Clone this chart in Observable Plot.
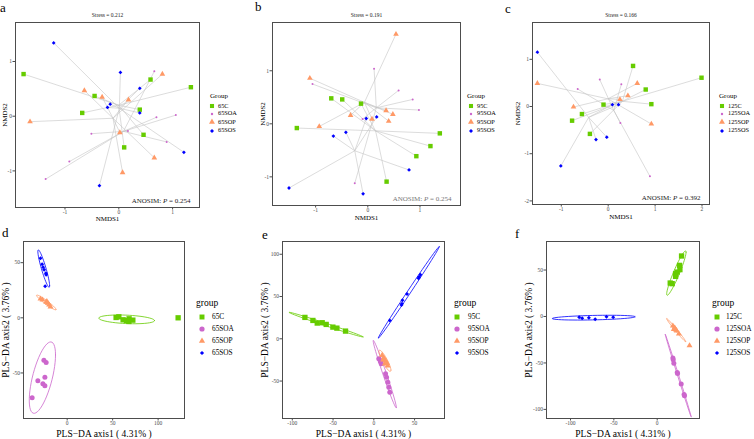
<!DOCTYPE html>
<html><head><meta charset="utf-8">
<script src="https://cdn.jsdelivr.net/npm/d3@7"></script>
<script src="https://cdn.jsdelivr.net/npm/@observablehq/plot@0.6"></script>
<style>
body{margin:0;background:#fff}
#root{position:relative;width:754px;height:439px;overflow:hidden;font-family:"Liberation Serif","Times New Roman",serif;color:#000;background:#fff}
.abs{position:absolute;white-space:nowrap;line-height:1}
</style></head><body><div id="root"></div>
<script>
// ---------- shared categories / styles ----------
const groupSuffix = ["C", "SOA", "SOP", "SOS"];
const groupColors = ["#66CC00", "#CC66CC", "#FF9966", "#0000FF"];
const groupSymbols = ["square", "circle", "triangle", "diamond2"];

// ---------- NMDS (top row) ----------
const a65C   = [[-1.77,0.77],[-0.68,0.06],[-0.45,0.37],[0.59,0.67],[1.34,0.53],[0.39,0.12],[0.46,-0.34],[0.10,-0.57]];
const a65SOA = [[0.66,0.82],[0.70,-0.02],[1.06,0.02],[0.17,-0.27],[-0.51,-0.32],[0.89,-0.47],[-0.92,-0.83],[-1.36,-1.15]];
const a65SOP = [[0.81,0.77],[-0.64,0.47],[-0.31,0.35],[0.18,0.30],[-1.65,-0.10],[0.02,-0.30],[0.66,-0.76],[0.07,-1.03]];
const a65SOS = [[-1.21,1.34],[0.03,0.80],[0.39,0.51],[-0.16,0.22],[-0.21,0.16],[0.39,0.06],[1.21,-0.66],[-0.36,-1.27]];

const b95C   = [[-0.70,0.48],[-0.49,0.46],[-0.13,0.38],[-1.36,-0.08],[1.38,-0.18],[1.20,-0.42],[0.93,-0.61],[0.36,-1.09]];
const b95SOA = [[0.12,1.04],[0.59,0.63],[0.86,0.46],[0.98,0.26],[-1.06,0.75],[-0.10,0.09],[-0.25,-1.12]];
const b95SOP = [[0.54,1.69],[-1.11,0.86],[0.35,0.25],[0.48,0.18],[-0.33,0.16],[-0.93,-0.05],[0.08,0.09],[0.40,0.05]];
const b95SOS = [[-0.03,0.10],[0.17,0.13],[-0.66,-0.23],[-0.42,-0.16],[0.79,-0.87],[-1.51,-1.21],[-0.09,-1.32]];

const c125C   = [[0.53,0.86],[1.99,0.61],[0.80,0.36],[0.92,0.05],[-0.10,0.04],[-0.56,-0.16],[-0.77,-0.30],[-0.39,-0.58]];
const c125SOA = [[-0.18,0.57],[-0.65,0.37],[0.28,0.47],[0.26,-0.35],[0.89,-1.48]];
const c125SOP = [[-1.51,0.49],[0.62,0.49],[0.25,0.15],[0.42,0.23],[-0.74,-0.01],[0.92,-0.37]];
const c125SOS = [[-1.51,1.15],[0.09,0.04],[0.22,0.04],[-0.26,-0.70],[-0.03,-0.65],[-1.01,-1.26]];

const stressValues = ["0.212", "0.191", "0.166"];
const anosimP = ["0.254", "0.254", "0.392"];

// ---------- PLS-DA (bottom row) ----------
const d65C   = [[53.8,0.3],[56.8,0.9],[61.5,-1.8],[65.2,-2.4],[67.8,-3.3],[72.2,-2.1],[68.1,-0.9],[122,0]];
const d65SOA = [[-25.6,-38.4],[-23.1,-40.5],[-24.5,-53.8],[-32.2,-57.1],[-26.7,-59.8],[-24.5,-61.6],[-38.5,-72.5]];
const d65SOP = [[-29.3,17.2],[-27.1,16.3],[-23.1,14.2],[-21.2,13.3],[-19.8,11.8],[-18.3,10.0],[-22.3,14.8]];
const d65SOS = [[-29.3,54.1],[-27.5,48.6],[-26.4,45.9],[-25.3,43.5],[-23.4,40.5],[-23.1,39.0],[-24.2,28.7]];

const e95C   = [[-84.5,25.3],[-74.7,21.7],[-69.4,18.6],[-63.3,19.0],[-58.4,17.0],[-50.2,13.8],[-45.3,12.6],[-34.7,9.1]];
const e95SOA = [[6.1,-23.7],[8.0,-27.0],[9.1,-29.6],[14.4,-41.4],[15.6,-45.4],[17.2,-51.4],[18.4,-57.3],[19.6,-63.2]];
const e95SOP = [[10.2,-19.4],[12.2,-22.5],[14.3,-25.7],[16.3,-28.9],[17.1,-32.0],[11.4,-24.9],[13.5,-29.6]];
const e95SOS = [[19.6,21.7],[33.9,39.9],[34.5,41.5],[35.1,45.5],[40.8,53.0],[54.7,71.5],[55.5,73.0],[57.1,75.9]];

const f125C   = [[28.1,65.1],[25.8,55.0],[26.2,50.4],[23.1,47.8],[21.2,46.0],[21.2,43.2],[17.3,35.3],[15.0,36.0]];
const f125SOA = [[18.1,-44.6],[18.5,-46.5],[19.2,-50.4],[23.1,-60.4],[23.5,-61.5],[27.7,-72.7],[31.0,-84.0],[31.5,-85.3]];
const f125SOP = [[18.1,-10.1],[20.0,-12.2],[20.5,-12.8],[21.9,-14.7],[22.5,-15.5],[25.0,-18.7],[37.3,-31.3],[19.2,-13.7]];
const f125SOS = [[-90.0,-0.7],[-86.5,-1.8],[-78.8,-1.4],[-71.5,-2.9],[-58.5,-0.4],[-50.8,-0.7]];

const plsX = "PLS\u2212DA axis1 ( 4.31% )";
const plsY = "PLS\u2212DA axis2 ( 3.76% )";

// ---------- helpers ----------
const FONT = '"Liberation Serif","Times New Roman",serif';
const root = document.getElementById("root");
function place(el, left, top) {
  el.style.position = "absolute"; el.style.left = left + "px"; el.style.top = top + "px";
  root.appendChild(el);
}
function textDiv(str, left, centerY, size, extra = {}) {
  const d = document.createElement("div");
  d.className = "abs"; d.textContent = str; d.style.fontSize = size + "px";
  Object.assign(d.style, extra);
  place(d, left, centerY - size * 0.5);
  return d;
}

// robust (t) covariance like MASS::cov.trob, then 95% ellipse like ggplot2 stat_ellipse
function covTrob(pts, nu = 5, maxit = 25, tol = 0.01) {
  const n = pts.length, p = 2;
  let loc = [d3.mean(pts, d => d[0]), d3.mean(pts, d => d[1])];
  let w = pts.map(() => 1), X;
  for (let it = 0; it < maxit; it++) {
    const w0 = w.slice();
    X = pts.map(d => [d[0] - loc[0], d[1] - loc[1]]);
    const sw = d3.sum(w);
    let a = 0, b = 0, c = 0;
    X.forEach((v, i) => { a += w[i]*v[0]*v[0]/sw; b += w[i]*v[0]*v[1]/sw; c += w[i]*v[1]*v[1]/sw; });
    const det = a*c - b*b;
    const Q = X.map(v => (c*v[0]*v[0] - 2*b*v[0]*v[1] + a*v[1]*v[1]) / det);
    w = Q.map(q => (nu + p) / (nu + q));
    const sw2 = d3.sum(w);
    loc = [d3.sum(pts, (d, i) => w[i]*d[0]) / sw2, d3.sum(pts, (d, i) => w[i]*d[1]) / sw2];
    if (w.every((wi, i) => Math.abs(wi - w0[i]) < tol)) break;
  }
  let a = 0, b = 0, c = 0;
  X.forEach((v, i) => { a += w[i]*v[0]*v[0]; b += w[i]*v[0]*v[1]; c += w[i]*v[1]*v[1]; });
  return {center: loc, cov: [a/n, b/n, c/n]};
}
function ellipse(pts, gi) {
  const {center, cov: [a, b, c]} = covTrob(pts);
  const dfd = pts.length - 1;
  const radius = Math.sqrt(dfd * (Math.pow(0.05, -2 / dfd) - 1));
  const r11 = Math.sqrt(a), r12 = b / r11, r22 = Math.sqrt(Math.max(c - r12*r12, 0));
  return d3.range(52).map(k => {
    const t = k * 2 * Math.PI / 51, u = Math.cos(t), v = Math.sin(t);
    return {x: center[0] + radius*u*r11, y: center[1] + radius*(u*r12 + v*r22), g: gi};
  });
}

function makePlot({frame, pad, x, y, tickFont, marks}) {
  const [L, T, R, B] = frame;
  const p = Plot.plot({
    width: R - L + pad[0] + pad[2], height: B - T + pad[1] + pad[3],
    marginLeft: pad[0], marginTop: pad[1], marginRight: pad[2], marginBottom: pad[3],
    style: {fontFamily: FONT, fontSize: tickFont + "px", color: "#4d4d4d", background: "none", overflow: "visible"},
    x: {...x, tickSize: 2.5, tickPadding: 0.5, label: null, tickFormat: d => String(d)},
    y: {...y, tickSize: 2.5, tickPadding: 1, label: null, tickFormat: d => String(d)},
    marks
  });
  place(p, L - pad[0], T - pad[1]);
  return p;
}

const symTypes = {square: d3.symbolSquare, circle: d3.symbolCircle, triangle: d3.symbolTriangle, diamond2: d3.symbolDiamond2};
function legend({titleX, titleY, title, titleSize, symX, textX, ys, labels, radii, labelSize}) {
  textDiv(title, titleX, titleY, titleSize);
  labels.forEach((lab, i) => {
    const s = d3.create("svg").attr("width", 10).attr("height", 10).style("overflow", "visible");
    s.append("path").attr("transform", "translate(5,5)")
      .attr("d", d3.symbol(symTypes[groupSymbols[i]], Math.PI * radii[i] * radii[i])())
      .attr("fill", groupColors[i]);
    place(s.node(), symX - 5, ys[i] - 5);
    textDiv(lab, textX, ys[i], labelSize);
  });
}

// ---------- NMDS panels ----------
const topR = [2.5, 1.0, 2.1, 1.7];
function nmdsPanel({groups, prefix, frame, xDomain, yDomain, xTicks, yTicks, stress, p, anosimColor, yLabDx, xLabDy, leg}) {
  const cents = groups.map(arr => [d3.mean(arr, d => d[0]), d3.mean(arr, d => d[1])]);
  const links = [];
  groups.forEach((arr, gi) => arr.forEach(([px, py]) => links.push({x1: px, y1: py, x2: cents[gi][0], y2: cents[gi][1]})));
  const plot = makePlot({
    frame, pad: [25, 16, 10, 22], tickFont: 5.5,
    x: {domain: xDomain, ticks: xTicks}, y: {domain: yDomain, ticks: yTicks},
    marks: [
      Plot.link(links, {x1: "x1", y1: "y1", x2: "x2", y2: "y2", stroke: "#c4c4c4", strokeWidth: 0.6}),
      ...groups.map((arr, gi) => Plot.dot(arr, {x: d => d[0], y: d => d[1], symbol: groupSymbols[gi], fill: groupColors[gi], r: topR[gi]})),
      Plot.frame({stroke: "#4d4d4d", strokeWidth: 1}),
      Plot.text(["Stress = " + stress], {text: d => d, frameAnchor: "top", lineAnchor: "middle", dy: -7, fontSize: 5.5, fill: "#222"}),
      Plot.text(["ANOSIM: P = " + p], {text: d => d, frameAnchor: "bottom-right", textAnchor: "end", lineAnchor: "middle", dx: -9, dy: -7, fontSize: 7, fill: anosimColor}),
      Plot.text(["NMDS1"], {text: d => d, frameAnchor: "bottom", lineAnchor: "middle", textAnchor: "middle", dy: xLabDy, fontSize: 7, fill: "#000"}),
      Plot.text(["NMDS2"], {text: d => d, frameAnchor: "left", lineAnchor: "middle", textAnchor: "middle", rotate: -90, dx: yLabDx, fontSize: 7, fill: "#000"})
    ]
  });
  plot.querySelectorAll("text").forEach(t => {
    if (t.textContent.startsWith("ANOSIM")) {
      const val = t.textContent.split("= ")[1];
      t.textContent = "";
      const mk = (s, it) => { const ts = document.createElementNS("http://www.w3.org/2000/svg", "tspan"); ts.textContent = s; if (it) ts.setAttribute("font-style", "italic"); t.appendChild(ts); };
      mk("ANOSIM: ", false); mk("P", true); mk(" = " + val, false);
    }
  });
  legend({...leg, title: "Group", titleSize: 7, labelSize: 6.3, labels: groupSuffix.map(s => prefix + s), radii: [2.3, 1.2, 2.2, 1.8]});
}

nmdsPanel({groups: [a65C, a65SOA, a65SOP, a65SOS], prefix: "65", frame: [15, 22, 199, 207],
  xDomain: [-1.92, 1.50], yDomain: [-1.669, 1.713], xTicks: [-1, 0, 1], yTicks: [-1, 0, 1],
  stress: stressValues[0], p: anosimP[0], anosimColor: "#222", yLabDx: -11, xLabDy: 11.5,
  leg: {titleX: 210, titleY: 96, symX: 212, textX: 218, ys: [106, 113.5, 122, 130.5]}});
nmdsPanel({groups: [b95C, b95SOA, b95SOP, b95SOS], prefix: "95", frame: [272, 22, 460, 205],
  xDomain: [-1.826, 1.776], yDomain: [-1.54, 1.91], xTicks: [-1, 0, 1], yTicks: [-1, 0, 1],
  stress: stressValues[1], p: anosimP[1], anosimColor: "#777", yLabDx: -10, xLabDy: 12,
  leg: {titleX: 467, titleY: 96, symX: 471, textX: 477, ys: [106, 113.5, 122, 130.5]}});
nmdsPanel({groups: [c125C, c125SOA, c125SOP, c125SOS], prefix: "125", frame: [532, 22, 709, 204],
  xDomain: [-1.614, 2.16], yDomain: [-2.076, 1.78], xTicks: [-1, 0, 1, 2], yTicks: [-2, -1, 0, 1],
  stress: stressValues[2], p: anosimP[2], anosimColor: "#222", yLabDx: -15, xLabDy: 12,
  leg: {titleX: 719, titleY: 96, symX: 722, textX: 728, ys: [106, 113.5, 122, 130.5]}});

// ---------- PLS-DA panels ----------
const botR = [3.0, 2.5, 2.2, 1.8];
function plsPanel({groups, prefix, frame, xDomain, yDomain, xTicks, yTicks, leg}) {
  const ells = groups.flatMap((arr, gi) => ellipse(arr, gi));
  makePlot({
    frame, pad: [28, 16, 10, 24], tickFont: 5.5,
    x: {domain: xDomain, ticks: xTicks}, y: {domain: yDomain, ticks: yTicks},
    marks: [
      ...groups.map((arr, gi) => Plot.line(ells.filter(d => d.g === gi), {x: "x", y: "y", stroke: groupColors[gi], strokeWidth: 0.8, curve: "linear", clip: true})),
      ...groups.map((arr, gi) => Plot.dot(arr, {x: d => d[0], y: d => d[1], symbol: groupSymbols[gi], fill: groupColors[gi], r: botR[gi]})),
      Plot.frame({stroke: "#4d4d4d", strokeWidth: 1}),
      Plot.text([plsX], {text: d => d, frameAnchor: "bottom", lineAnchor: "middle", textAnchor: "middle", dy: 15, fontSize: 9.5, fill: "#000"}),
      Plot.text([plsY], {text: d => d, frameAnchor: "left", lineAnchor: "middle", textAnchor: "middle", rotate: -90, dx: -18, fontSize: 9.5, fill: "#000"})
    ]
  });
  legend({...leg, title: "group", titleSize: 9.5, labelSize: 7.3, labels: groupSuffix.map(s => prefix + s), radii: [2.8, 2.6, 2.3, 1.9]});
}
plsPanel({groups: [d65C, d65SOA, d65SOP, d65SOS], prefix: "65", frame: [23, 241, 184, 418],
  xDomain: [-48, 129], yDomain: [-91.3, 69.2], xTicks: [0, 50, 100], yTicks: [-50, 0, 50],
  leg: {titleX: 196, titleY: 304, symX: 202, textX: 212, ys: [317, 329, 341, 353]}});
plsPanel({groups: [e95C, e95SOA, e95SOP, e95SOS], prefix: "95", frame: [282, 241, 444, 418],
  xDomain: [-112, 86.7], yDomain: [-94.3, 115.1], xTicks: [-100, -50, 0, 50], yTicks: [-50, 0, 50, 100],
  leg: {titleX: 454, titleY: 304, symX: 457, textX: 468, ys: [317, 329, 341, 353]}});
plsPanel({groups: [f125C, f125SOA, f125SOP, f125SOS], prefix: "125", frame: [546, 241, 699, 418],
  xDomain: [-127.7, 48.8], yDomain: [-109.8, 80.7], xTicks: [-100, -50, 0], yTicks: [-100, -50, 0, 50],
  leg: {titleX: 712, titleY: 304, symX: 717, textX: 726, ys: [317, 329, 341, 353]}});

// ---------- panel letters ----------
const panelLetters = ["a", "b", "c", "d", "e", "f"];
const letterPos = [[0, 7], [255, 6], [505, 8], [2, 232], [262, 234], [515, 233]];
panelLetters.forEach((l, i) => textDiv(l, letterPos[i][0], letterPos[i][1], 13));
</script></body></html>
